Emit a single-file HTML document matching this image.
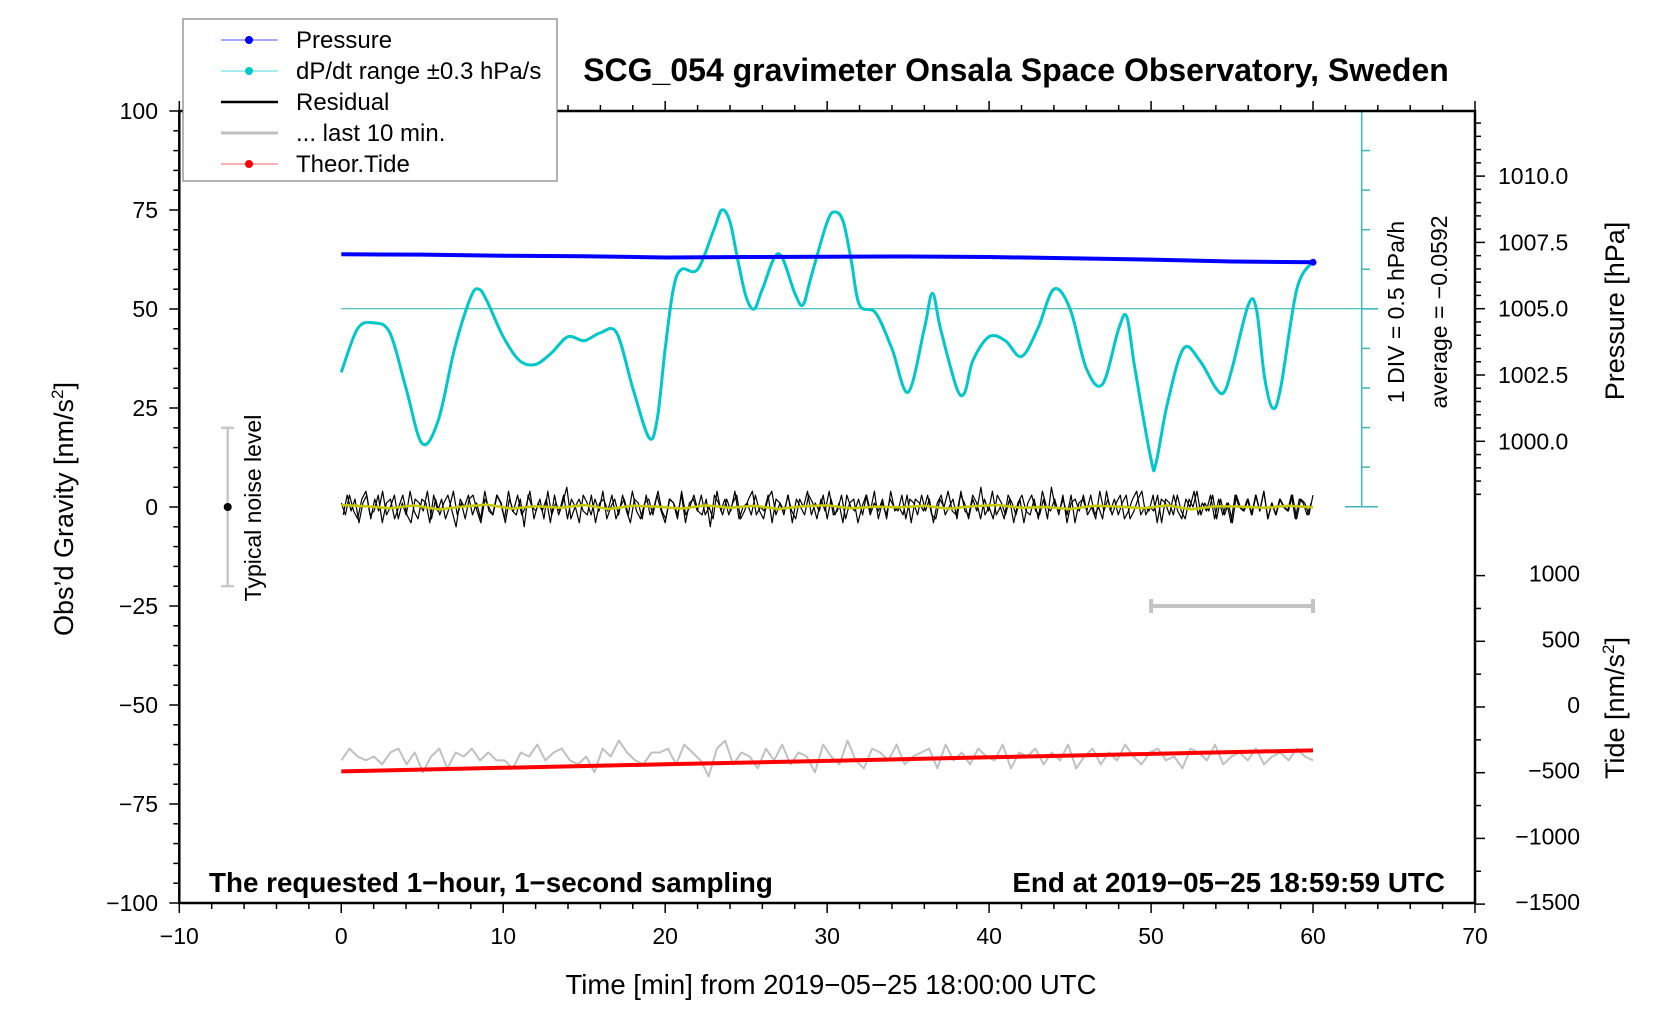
<!DOCTYPE html>
<html><head><meta charset="utf-8">
<style>
html,body{margin:0;padding:0;background:#fff;}
svg{display:block;font-family:"Liberation Sans",Arial,sans-serif;}
</style></head>
<body>
<svg id="chart" width="1676" height="1020" viewBox="0 0 1676 1020">
<g id="marks"></g>
<g id="axes"></g>
</svg>
<script>
// ---- data ----
const pressTimes = [0,5,10,15,20,25,30,35,40,45,50,55,60];
const pressVals = [1007.05,1007.04,1007.0,1006.98,1006.93,1006.95,1006.96,1006.97,1006.95,1006.9,1006.85,1006.78,1006.75];
const dpTimes = [0,1,2,3,4,5,6,7,8,8.5,9,10,11,12,13,14,15,16,17,18,19,19.5,20,20.5,21,22,23,23.5,24,24.5,25,25.5,26,27,28,28.5,29,30,30.5,31,31.5,32,33,34,35,36,36.5,37,38,38.5,39,40,41,42,43,44,45,46,47,48,48.5,49,50,50.3,51,52,53,54,54.5,55,56,56.5,57,57.5,58,59,60];
const dpVals = [34,45,46.5,44,30,16,22,40,53,55,52,43,37,36,39,43,42,44,44,30,17.5,22,40,55,60,60,70,75,72,62,53,50,55,64,54,51,58,72,74.5,72,62,51,49,40,29,45,54,45,30,29,37,43,42,38,45,55,50,35,31,45,48,35,12,11,26,40,37,30,29,35,51,50,33,25,30,55,62];
const residVals = [1,-2,3,-1,-3,2,4,-2,-1,3,-4,1,2,-3,0,3,-2,-4,2,1,-1,4,-3,2,-2,1,3,-1,-5,2,0,3,-2,1,-3,4,-1,-2,3,1,-4,2,-1,3,-2,0,4,-3,1,-1,2,-4,3,-2,1,5,-3,0,2,-1,-2,3,-4,1,2,-1,3,-3,0,2,-2,4,-1,-3,1,2,-2,3,-1,-4,2,1,-3,4,-2,0,3,-1,-2,2,-5,3,1,-2,2,-1,4,-3,0,1,-2,3,-1,-3,2,4,-2,1,-1,3,-4,2,0,-2,3,1,-3,2,-1,4,-2,-1,3,-3,1,2,-4,0,3,-2,1,-1,2,-3,4,-1,0,-2,3,-4,2,1,-1,3,-2,-3,2,0,4,-1,-2,3,1,-3,2,-1,5,-2,0,-3,3,1,-2,2,-4,1,3,-1,-2,2,-3,4,0,-1,2,-2,3,-4,1,2,-1,3,-2,0,-3,4,-1,2,-2,1,3,-3,-1,2,4,-2,0,-1,3,-4,2,1,-2,3,-1,-3,2,0,4,-2,1,-1,3,-3,2,-2,1,-4,3,0,-1,2,-2,3,-1,4,-3,1,-2,2,0,-1,3,-3,2,1,-2,3];
const residVals2 = [-2,3,-1,2,-4,1,3,-3,2,-1,4,-2,0,3,-3,1,-2,4,-1,-3,2,1,-4,3,-1,2,-3,0,4,-2,1,-3,2,3,-1,-4,2,0,-2,3,1,-3,4,-1,-2,2,-5,3,0,-1,2,-3,4,-2,1,-1,3,-3,2,0,-4,3,1,-2,2,-1,4,-3,0,2,-2,3,-1,-4,2,1,-3,3,-2,0,4,-1,-3,2,1,-2,3,-4,1,2,-1,3,-2,0,-3,4,-1,2,-2,1,3,-3,-1,2,4,-2,0,-1,3,-4,2,1,-2,3,-1,-3,2,0,4,-2,1,-1,3,-3,2,-2,1,-4,3,0,-1,2,-2,3,-1,4,-3,1,-2,2,0,-1,3,-3,2,1,-2,3,-1,2,-4,1,3,-2,0,2,-3,4,-1,-2,3,1,-3,2,-1,4,-2,0,-3,3,1,-2,2,-4,1,3,-1,-2,2,-3,5,0,-1,2,-2,3,-4,1,2,-1,3,-2,0,-3,4,-1,2,-2,1,3,-3,-1,2,4,-2,0,-1,3,-4,2,1,-2,3,-1,-3,2,0,4,-2,1,-1,3,-3,2,-2,1,-4,3,0,-1,2,-2,3,-1,4,-3,1,-2,2,0,-1,3,-3,2,1,-2,1];
const smoothVals = [0.5,0.2,-0.3,0.4,-0.6,0.1,0.6,-0.4,0.2,-0.2,0.5,-0.5,0.3,0.1,-0.4,0.4,-0.2,0.3,-0.5,0.2,0.4,-0.3,0.1,-0.1,0.3,-0.4,0.2,0.5,-0.2,0.0,-0.5,0.3,0.1,-0.3,0.4,-0.6,0.2,0.1,-0.2,0.3,-0.1];
const grayVals = [-64,-61,-63,-64,-63,-65,-62,-61,-65,-62,-67,-63,-61,-66,-62,-63,-61,-64,-62,-64,-64,-66,-62,-63,-60,-64,-62,-61,-64,-65,-63,-67,-61,-63,-59,-62,-64,-65,-62,-62,-61,-65,-60,-62,-64,-68,-61,-59,-65,-62,-63,-66,-61,-64,-60,-65,-62,-63,-67,-60,-63,-65,-59,-64,-66,-61,-62,-64,-60,-65,-63,-62,-61,-66,-60,-64,-62,-65,-61,-63,-64,-60,-66,-62,-63,-61,-65,-62,-64,-60,-66,-63,-61,-65,-62,-64,-60,-63,-65,-62,-61,-64,-63,-66,-61,-62,-64,-60,-65,-63,-62,-64,-61,-65,-63,-62,-64,-61,-63,-64];
const tideTimes = [0,10,20,30,40,50,60];
const tideVals = [-490,-463,-436,-410,-383,-357,-330];
const xTicks = [-10,0,10,20,30,40,50,60,70];
const yTicks = [100,75,50,25,0,-25,-50,-75,-100];
const pTicks = [1000,1002.5,1005,1007.5,1010];
const tTicks = [1000,500,0,-500,-1000,-1500];

// ---- scales ----
const X0=179.3, X1=1475, Y0=111, Y1=903;
const xs = t => X0 + (t+10)*(X1-X0)/80;
const ys = v => 507 - v*(Y1-Y0)/200;
const ps = p => 308.7 - (p-1005)*(132.6/5);
const ts = v => 707 - v*(65.7/500);

const NS="http://www.w3.org/2000/svg";
const marks=document.getElementById('marks'), axes=document.getElementById('axes');
function mk(tag,attrs,parent,txt){const e=document.createElementNS(NS,tag);for(const k in attrs)e.setAttribute(k,attrs[k]);if(txt!==undefined)e.textContent=txt;(parent||marks).appendChild(e);return e;}
function poly(pts,stroke,w,name){const e=mk('polyline',{points:pts.map(p=>p[0].toFixed(1)+','+p[1].toFixed(1)).join(' '),fill:'none',stroke:stroke,'stroke-width':w,'stroke-linejoin':'round'});


return e;}
function smoothPath(pts,stroke,w,name){let d='M'+pts[0][0]+','+pts[0][1];
for(let i=0;i<pts.length-1;i++){const p0=pts[Math.max(0,i-1)],p1=pts[i],p2=pts[i+1],p3=pts[Math.min(pts.length-1,i+2)];
const c1=[p1[0]+(p2[0]-p0[0])/6,p1[1]+(p2[1]-p0[1])/6],c2=[p2[0]-(p3[0]-p1[0])/6,p2[1]-(p3[1]-p1[1])/6];
d+=' C'+c1[0].toFixed(1)+','+c1[1].toFixed(1)+' '+c2[0].toFixed(1)+','+c2[1].toFixed(1)+' '+p2[0].toFixed(1)+','+p2[1].toFixed(1);}
const e=mk('path',{d:d,fill:'none',stroke:stroke,'stroke-width':w});


return e;}

// cyan reference line and axis
let l=mk('line',{x1:xs(0),x2:1378,y1:ps(1005),y2:ps(1005),stroke:'#3cb8b8','stroke-width':1.2});


const cg=mk('g',{stroke:'#3cb8b8','stroke-width':1.5});


mk('line',{x1:1361.7,x2:1361.7,y1:Y0,y2:506.7},cg);
for(let i=0;i<=10;i++){const y=Y0+i*(506.7-Y0)/10;mk('line',{x1:(i==0||i==10)?1345:1361.7,x2:(i==5||i==0||i==10)?1378:1370,y1:y,y2:y},cg);}

// gray last 10 min
poly(grayVals.map((v,i)=>[xs(i*60/(grayVals.length-1)),ys(v)]),'#c0c0c0',2,'last-10-min-line');
// tide
poly(tideTimes.map((t,i)=>[xs(t),ts(tideVals[i])]),'#ff0000',4,'theor-tide-line');
// residual
poly(residVals.map((v,i)=>[xs(i*60/(residVals.length-1)),ys(v)]),'#000',1.2,'residual-line');
poly(residVals2.map((v,i)=>[xs((i+0.5)*60/(residVals2.length)),ys(v)]),'#000',1.2,'residual-line-b');
poly(smoothVals.map((v,i)=>[xs(i*60/(smoothVals.length-1)),ys(v)]),'#c8c800',2.5,'residual-smoothed-line');
// dP/dt
smoothPath(dpTimes.map((t,i)=>[xs(t),ys(dpVals[i])]),'#00c8c8',3,'dpdt-line');
// pressure
poly(pressTimes.map((t,i)=>[xs(t),ps(pressVals[i])]),'#0000ff',4,'pressure-line');
let pd=mk('circle',{cx:xs(60),cy:ps(pressVals[pressVals.length-1]),r:3.5,fill:'#0000ff'});



// noise bar and scale bar
const nb=mk('g',{stroke:'#c8c8c8','stroke-width':2.5});


mk('line',{x1:227.7,x2:227.7,y1:ys(20),y2:ys(-20)},nb);
mk('line',{x1:221,x2:234,y1:ys(20),y2:ys(20)},nb);
mk('line',{x1:221,x2:234,y1:ys(-20),y2:ys(-20)},nb);
mk('circle',{cx:227.7,cy:ys(0),r:4,fill:'#000',stroke:'none'},nb);
const sb=mk('g',{stroke:'#c4c4c4','stroke-width':4});


mk('line',{x1:xs(50),x2:xs(60),y1:ys(-25),y2:ys(-25)},sb);
mk('line',{x1:xs(50),x2:xs(50),y1:ys(-25)-7,y2:ys(-25)+7},sb);
mk('line',{x1:xs(60),x2:xs(60),y1:ys(-25)-7,y2:ys(-25)+7},sb);

// axes frame
const fr=mk('rect',{x:X0,y:Y0,width:X1-X0,height:Y1-Y0,fill:'none',stroke:'#000','stroke-width':2.5},axes);


const tk=mk('g',{stroke:'#000','stroke-width':1.5},axes);
for(let t=-10;t<=70;t+=2){const x=xs(t);const maj=(t%10===0);mk('line',{x1:x,x2:x,y1:Y1,y2:Y1+(maj?10:6)},tk);mk('line',{x1:x,x2:x,y1:Y0,y2:Y0-(maj?10:6)},tk);}
for(let v=-100;v<=100;v+=5){const y=ys(v);mk('line',{x1:X0,x2:X0-(v%25===0?10:6),y1:y,y2:y},tk);}
for(let p=997.5;p<=1012;p+=0.5){const y=ps(p);if(y<Y0||y>507)continue;const maj=Math.abs((p*2)%5)<0.01;mk('line',{x1:X1,x2:X1+(maj?10:6),y1:y,y2:y},tk);}
for(let v=-1500;v<=1000;v+=250){const y=ts(v);mk('line',{x1:X1,x2:X1+(v%500===0?10:6),y1:y,y2:y},tk);}

function txt(x,y,s,opts,name){const e=mk('text',Object.assign({x:x,y:y,'font-size':23,fill:'#000'},opts||{}),axes,s);


return e;}
xTicks.forEach(t=>txt(xs(t),944,String(t).replace('-','\u2212'),{'text-anchor':'middle'},'x-tick-label'));
yTicks.forEach(v=>txt(158,ys(v)+8,String(v).replace('-','\u2212'),{'text-anchor':'end'},'y-tick-label'));
pTicks.forEach(p=>txt(1498,ps(p)+8,p.toFixed(1),{},'pressure-tick-label'));
tTicks.forEach(v=>txt(1580,ts(v)+6,String(v).replace('-','\u2212'),{'text-anchor':'end'},'tide-tick-label'));

txt(1016,81,'SCG_054 gravimeter Onsala Space Observatory, Sweden',{'text-anchor':'middle','font-weight':'bold','font-size':32},'chart-title');
txt(831,994,'Time [min] from 2019\u221205\u221225 18:00:00 UTC',{'text-anchor':'middle','font-size':27.5},'x-axis-title');
const yt=txt(0,0,'',{'text-anchor':'middle','font-size':27,transform:'translate(73,509) rotate(-90)'},'y-axis-title');
yt.innerHTML='Obs\u2019d Gravity [nm/s<tspan dy="-10" font-size="17">2</tspan><tspan dy="10">]</tspan>';
txt(0,0,'Pressure [hPa]',{'text-anchor':'middle','font-size':27,transform:'translate(1624,311) rotate(-90)'},'pressure-axis-title');
const tt=txt(0,0,'',{'text-anchor':'middle','font-size':27,transform:'translate(1624,708) rotate(-90)'},'tide-axis-title');
tt.innerHTML='Tide [nm/s<tspan dy="-10" font-size="17">2</tspan><tspan dy="10">]</tspan>';
txt(0,0,'1 DIV = 0.5 hPa/h',{'text-anchor':'middle','font-size':23,transform:'translate(1404,312) rotate(-90)'},'div-scale-label');
txt(0,0,'average = \u22120.0592',{'text-anchor':'middle','font-size':23,transform:'translate(1447,312) rotate(-90)'},'average-label');
txt(0,0,'Typical noise level',{'text-anchor':'middle','font-size':23,transform:'translate(261,508) rotate(-90)'},'noise-level-label');
txt(209,892,'The requested 1\u2212hour, 1\u2212second sampling',{'font-weight':'bold','font-size':27.8},'sampling-note');
txt(1445,892,'End at 2019\u221205\u221225 18:59:59 UTC',{'text-anchor':'end','font-weight':'bold','font-size':27.8},'end-time-note');

// legend
const lg=mk('g',{},axes);


mk('rect',{x:183,y:19,width:374,height:162,fill:'#fff',stroke:'#808080','stroke-width':1.2},lg);
const leg=[['Pressure','#5050ff',1,true,'#0000ff'],['dP/dt range \u00b10.3 hPa/s','#50d8d8',1,true,'#00c8c8'],['Residual','#000',2.5,false],['... last 10 min.','#c0c0c0',3,false],['Theor.Tide','#ff6060',1,true,'#ff0000']];
leg.forEach((e,i)=>{const y=40+i*31;const g=mk('g',{},lg);


mk('line',{x1:221,x2:278,y1:y,y2:y,stroke:e[1],'stroke-width':e[2]},g);
if(e[3])mk('circle',{cx:249,cy:y,r:4,fill:e[4]},g);
mk('text',{x:296,y:y+8,'font-size':24,fill:'#000'},g,e[0]);});
</script>
</body></html>
